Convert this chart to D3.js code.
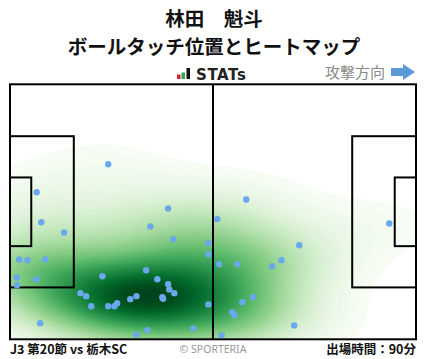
<!DOCTYPE html>
<html><head><meta charset="utf-8">
<script src="https://cdn.jsdelivr.net/npm/d3@7"></script>
<style>
html,body{margin:0;padding:0;background:#fff;}
svg{display:block;}
</style></head>
<body><svg id="chart" width="428" height="359"></svg>
<script>
// Pitch dimensions (meters)
const pitchLength = 105, pitchWidth = 68;
// Ball touch positions (meters, x along attack direction, y from top)
const touchX = [25.4,6.9,40.9,8.1,14.0,36.3,42.2,51.3,51.3,2.4,4.5,9.1,1.8,1.8,6.8,23.9,35.2,38.1,40.9,41.2,42.5,39.4,39.6,18.2,19.7,21.0,25.4,27.0,27.7,31.1,32.7,51.3,7.8,32.7,35.5,47.4,61.1,53.6,74.8,54.1,58.8,67.8,70.2,62.9,60.1,57.5,58.0,73.5,54.7,98.1];
const touchY = [21.3,28.8,33.1,36.8,39.5,37.9,41.3,42.4,45.3,46.7,46.9,46.7,51.5,53.6,52.0,51.2,49.6,52.0,53.3,54.7,55.7,56.8,57.2,55.7,56.5,59.2,59.2,59.2,58.4,57.3,56.5,58.7,63.7,66.7,65.6,65.1,30.7,35.9,42.9,48.0,48.0,48.5,46.9,56.8,58.1,60.8,61.6,64.3,66.9,37.1];
const titleLines = ["林田　魁斗","ボールタッチ位置とヒートマップ"];
const footerLeft = "J3 第20節 vs 栃木SC";
const footerCenter = "© SPORTERIA";
const footerRight = "出場時間：90分";
const directionLabel = "攻撃方向";

const svg = d3.select("#chart");
const fx0=10, fx1=416, fy0=84.3, fy1=339.3;
const x = d3.scaleLinear().domain([0,pitchLength]).range([fx0,fx1]);
const y = d3.scaleLinear().domain([0,pitchWidth]).range([fy0,fy1]);

// Titles
svg.append("text").attr("x",214).attr("y",26).attr("text-anchor","middle")
  .attr("font-family","'Noto Sans CJK JP'").attr("font-weight","bold").attr("font-size",19.5).attr("fill","#111").text(titleLines[0]);
svg.append("text").attr("x",214).attr("y",53.5).attr("text-anchor","middle")
  .attr("font-family","'Noto Sans CJK JP'").attr("font-weight","bold").attr("font-size",19.5).attr("fill","#111").text(titleLines[1]);

// STATs logo
const logo = svg.append("g");
logo.append("rect").attr("x",177).attr("y",74.5).attr("width",3.5).attr("height",4.5).attr("fill","#d7262b");
logo.append("rect").attr("x",181.5).attr("y",72.5).attr("width",3.5).attr("height",6.5).attr("fill","#2fa84f");
logo.append("rect").attr("x",186.5).attr("y",68).attr("width",3.5).attr("height",11).attr("fill","#111");
logo.append("text").attr("x",196).attr("y",79.5).attr("font-family","'DejaVu Sans'").attr("font-weight","bold")
  .attr("font-size",15).attr("letter-spacing",0.6).attr("fill","#222").text("STATs");

// Direction
svg.append("text").attr("x",385).attr("y",78).attr("text-anchor","end")
  .attr("font-family","'Noto Sans CJK JP'").attr("font-size",15).attr("fill","#8a8a8a").text(directionLabel);
svg.append("path").attr("d","M391,68 L403,68 L403,64 L415,72 L403,80 L403,76 L391,76 Z").attr("fill","#5b9bd8");

// Heatmap KDE (Scott bandwidth, full covariance)
const n = touchX.length;
const mx = d3.mean(touchX), my = d3.mean(touchY);
let sxx=0, syy=0, sxy=0;
for(let i=0;i<n;i++){const dx=touchX[i]-mx, dy=touchY[i]-my; sxx+=dx*dx; syy+=dy*dy; sxy+=dx*dy;}
sxx/=(n-1); syy/=(n-1); sxy/=(n-1);
const bwAdjust = 1.25;
const f = Math.pow(n,-1/6)*bwAdjust;
const hxx=sxx*f*f, hyy=syy*f*f, hxy=sxy*f*f;
const det = hxx*hyy-hxy*hxy;
const ixx=hyy/det, iyy=hxx/det, ixy=-hxy/det;
const W = Math.round(fx1-fx0), H = Math.round(fy1-fy0);
const values = new Float64Array(W*H);
for(let j=0;j<H;j++){
  const ym = y.invert(fy0+j+0.5);
  for(let i=0;i<W;i++){
    const xm = x.invert(fx0+i+0.5);
    let s=0;
    for(let k=0;k<n;k++){
      const dx=xm-touchX[k], dy=ym-touchY[k];
      s+=Math.exp(-0.5*(ixx*dx*dx+2*ixy*dx*dy+iyy*dy*dy));
    }
    values[j*W+i]=s;
  }
}
// iso-proportion levels
const sorted = Array.from(values).sort((a,b)=>b-a);
const total = d3.sum(sorted);
const cum = new Float64Array(sorted.length); let acc=0;
for(let i=0;i<sorted.length;i++){acc+=sorted[i]; cum[i]=acc/total;}
const nLevels = 60, thresh = 0.022;
const levels = d3.range(nLevels).map(k=>{
  const q = thresh + (1-thresh)*k/(nLevels-1);
  const target = 1-q;
  const idx = Math.min(d3.bisectLeft(cum,target), sorted.length-1);
  return sorted[idx];
});
const uniqLevels = Array.from(new Set(levels)).sort((a,b)=>a-b);
const mids = uniqLevels.slice(0,-1).map((v,i)=>(v+uniqLevels[i+1])/2);
const color = d3.scaleSequential(d3.interpolateGreens).domain([d3.min(mids), d3.max(mids)]);
const contours = d3.contours().size([W,H]).smooth(true).thresholds(uniqLevels.slice(0,-1))(values);
svg.append("clipPath").attr("id","fieldclip").append("rect").attr("x",fx0).attr("y",fy0).attr("width",fx1-fx0).attr("height",fy1-fy0);
svg.append("g").attr("clip-path","url(#fieldclip)")
  .append("g").attr("transform",`translate(${fx0},${fy0})`)
  .selectAll("path").data(contours).join("path")
  .attr("d",d3.geoPath())
  .attr("fill",(d,i)=>color(mids[i]))
  .attr("stroke",(d,i)=>color(mids[i])).attr("stroke-width",0.3);

// Pitch lines
const lines = svg.append("g").attr("fill","none").attr("stroke","#000").attr("stroke-width",2);
lines.append("rect").attr("x",x(0)).attr("y",y(0)).attr("width",x(pitchLength)-x(0)).attr("height",y(pitchWidth)-y(0));
lines.append("line").attr("x1",x(pitchLength/2)).attr("x2",x(pitchLength/2)).attr("y1",y(0)).attr("y2",y(pitchWidth));
const boxD=16.5, boxW=40.32, gaD=5.5, gaW=18.32;
lines.append("rect").attr("x",x(0)).attr("y",y((pitchWidth-boxW)/2)).attr("width",x(boxD)-x(0)).attr("height",y(boxW)-y(0));
lines.append("rect").attr("x",x(0)).attr("y",y((pitchWidth-gaW)/2)).attr("width",x(gaD)-x(0)).attr("height",y(gaW)-y(0));
lines.append("rect").attr("x",x(pitchLength-boxD)).attr("y",y((pitchWidth-boxW)/2)).attr("width",x(boxD)-x(0)).attr("height",y(boxW)-y(0));
lines.append("rect").attr("x",x(pitchLength-gaD)).attr("y",y((pitchWidth-gaW)/2)).attr("width",x(gaD)-x(0)).attr("height",y(gaW)-y(0));

// Touch points
svg.append("g").selectAll("circle").data(touchX).join("circle")
  .attr("cx",(d)=>x(d)).attr("cy",(d,i)=>y(touchY[i])).attr("r",3.2).attr("fill","#69a8ea");

// Footer
svg.append("text").attr("x",10).attr("y",354).attr("font-family","'Noto Sans CJK JP'").attr("font-weight","bold")
  .attr("font-size",12.5).attr("fill","#111").text(footerLeft);
svg.append("text").attr("x",213).attr("y",353).attr("text-anchor","middle").attr("font-family","'Noto Sans'")
  .attr("font-size",10.5).attr("fill","#999").text(footerCenter);
svg.append("text").attr("x",416).attr("y",354).attr("text-anchor","end").attr("font-family","'Noto Sans CJK JP'").attr("font-weight","bold")
  .attr("font-size",12.5).attr("fill","#111").text(footerRight);
</script></body></html>
